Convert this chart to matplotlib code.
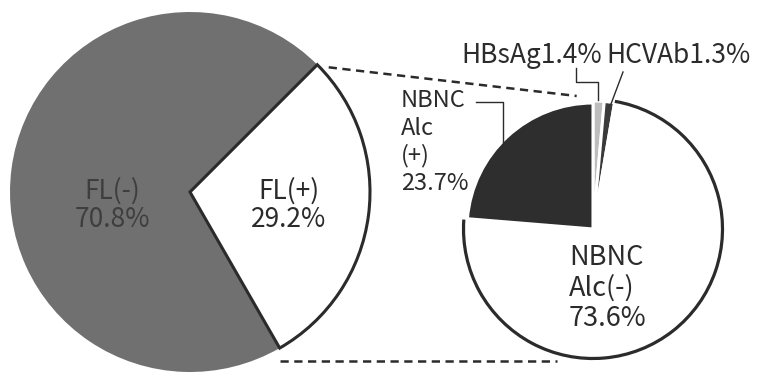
import numpy as np
import matplotlib.pyplot as plt
from matplotlib.patches import Arc

plt.rcParams['font.family'] = ['Noto Sans CJK JP', 'DejaVu Sans']

# ---- data ----
fl_labels = ["FL(-)", "FL(+)"]
fl_values = [70.8, 29.2]

sub_labels = ["HBsAg", "HCVAb", "NBNC\nAlc(-)", "NBNC\nAlc\n(+)"]
sub_values = [1.4, 1.3, 73.6, 23.7]

W, H = 758, 374
INK = "#2b2b2b"


def P(x, y):
    # pixel position (y measured from top) -> data coords
    return (x, H - y)


fig = plt.figure(figsize=(W / 100, H / 100), dpi=100)
ax = fig.add_axes([0, 0, 1, 1])

# ---- left pie: FL(-) / FL(+) ----
left_c = P(190, 192)
left_r = 180
wl, _ = ax.pie(fl_values, colors=["#707070", "white"], startangle=45,
               center=left_c, radius=left_r,
               wedgeprops=dict(linewidth=0))
wl[1].set_edgecolor(INK)
wl[1].set_linewidth(2.2)

# ---- right pie: breakdown of FL(+) ----
right_c = P(593, 229)
right_r = 128
wr, _ = ax.pie(sub_values, colors=["#bdbdbd", "#3a3a3a", "white", "#2e2e2e"],
               startangle=90, counterclock=False,
               center=right_c, radius=right_r,
               wedgeprops=dict(edgecolor="white", linewidth=2.2))
wr[3].set_radius(126)

# outline on the NBNC Alc(-) arc
neg = wr[2]
ax.add_patch(Arc(right_c, 2 * 129.5, 2 * 129.5, theta1=neg.theta1 + 0.5, theta2=neg.theta2,
                 color=INK, linewidth=2.3))

# ---- dashed connectors ----
a_top = np.deg2rad(45)
x0, y0 = left_c[0] + (left_r + 2) * np.cos(a_top), left_c[1] + (left_r + 2) * np.sin(a_top)
a_r = np.deg2rad(97)
x1, y1 = right_c[0] + 134 * np.cos(a_r), right_c[1] + 134 * np.sin(a_r)
dash = (0, (3.3, 2.2))
ax.plot([x0 + 10, x1], [y0 - 4, y1], ls=dash, color=INK, lw=1.8)
ax.plot([280, 557], [H - 361, H - 361], ls=dash, color=INK, lw=1.8)

# ---- labels ----
big = 19
ax.text(112, H - 205, f"{fl_labels[0]}\n{fl_values[0]}%", ha="center", va="center",
        fontsize=big, color="#3e3e3e", linespacing=1.08)
ax.text(289, H - 205, f"{fl_labels[1]}\n{fl_values[1]}%", ha="center", va="center",
        fontsize=big, color=INK, linespacing=1.08)

ax.text(569, H - 288, f"{sub_labels[2]}\n{sub_values[2]}%", ha="left", va="center",
        fontsize=19.5, color=INK, linespacing=1.15)
ax.text(401, H - 142, f"{sub_labels[3]}\n{sub_values[3]}%", ha="left", va="center",
        fontsize=17, color=INK, linespacing=1.23)

ax.text(461, H - 55, f"{sub_labels[0]}{sub_values[0]}%", ha="left", va="center",
        fontsize=19, color=INK)
ax.text(606, H - 55, f"{sub_labels[1]}{sub_values[1]}%", ha="left", va="center",
        fontsize=19, color=INK)

# leader lines
ax.plot([476, 503, 503], [H - 102, H - 102, H - 145], color=INK, lw=1)
ax.plot([576, 576, 598, 598], [H - 68, H - 82, H - 82, H - 100], color=INK, lw=1)
ax.plot([623, 611], [H - 72, H - 104], color=INK, lw=1)

ax.set_xlim(0, W)
ax.set_ylim(0, H)
ax.set_aspect("equal")
ax.axis("off")

fig.savefig("out.png", dpi=100, facecolor="white")
